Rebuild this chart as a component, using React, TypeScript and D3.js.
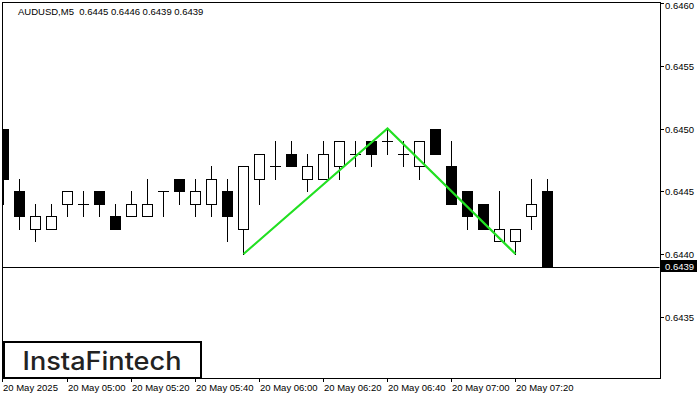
import React from "react";
import * as d3 from "d3";

const symbolTitle = "AUDUSD,M5  0.6445 0.6446 0.6439 0.6439";
const opens = [0.6450,0.6445,0.6442,0.6442,0.6444,0.6444,0.6445,0.6443,0.6443,0.6443,0.6445,0.6446,0.6444,0.6444,0.6445,0.6442,0.6446,0.6447,0.6448,0.6446,0.6446,0.6447,0.6448,0.6449,0.6449,0.6448,0.6447,0.6450,0.6447,0.6445,0.6444,0.6441,0.6441,0.6443,0.6445];
const highs = [0.6450,0.6446,0.6444,0.6444,0.6445,0.6445,0.6445,0.6444,0.6445,0.6446,0.6445,0.6446,0.6446,0.6447,0.6446,0.6447,0.6448,0.6449,0.6449,0.6448,0.6449,0.6449,0.6449,0.6449,0.6450,0.6449,0.6449,0.6450,0.6449,0.6445,0.6444,0.6445,0.6442,0.6446,0.6446];
const lows = [0.6444,0.6442,0.6441,0.6442,0.6443,0.6443,0.6443,0.6442,0.6443,0.6443,0.6443,0.6444,0.6443,0.6443,0.6441,0.6440,0.6444,0.6446,0.6447,0.6445,0.6446,0.6446,0.6447,0.6447,0.6448,0.6447,0.6446,0.6448,0.6444,0.6442,0.6442,0.6441,0.6440,0.6442,0.6439];
const closes = [0.6446,0.6443,0.6443,0.6443,0.6445,0.6444,0.6444,0.6442,0.6444,0.6444,0.6445,0.6445,0.6445,0.6446,0.6443,0.6447,0.6448,0.6447,0.6447,0.6447,0.6448,0.6449,0.6448,0.6448,0.6449,0.6448,0.6449,0.6448,0.6444,0.6443,0.6442,0.6442,0.6442,0.6444,0.6439];

const priceTicks = [0.6460, 0.6455, 0.6450, 0.6445, 0.6440, 0.6435];
const timeTickIdx = [0, 4, 8, 12, 16, 20, 24, 28, 32];
const timeTickLabels = ["20 May 2025", "20 May 05:00", "20 May 05:20", "20 May 05:40", "20 May 06:00", "20 May 06:20", "20 May 06:40", "20 May 07:00", "20 May 07:20"];

const patternIdx = [15, 24, 32];
const patternPrices = [0.6440, 0.6450, 0.6440];
const lastPrice = 0.6439;

const W = 700, H = 400;
const L = 2, R = 660, T = 2, B = 378;
const FONT = "'Liberation Sans', Arial, sans-serif";

export default function App() {
  const y = d3.scaleLinear().domain([0.6440, 0.6460]).range([254, 3]);
  const x = d3.scaleLinear().domain([0, 1]).range([3, 19]);
  const px = (v: number) => Math.round(v) + 0.5;

  const line = d3.line<number>()
    .x((d, i) => x(patternIdx[i]) + 0.5)
    .y((d) => y(d));

  const lastY = px(y(lastPrice));

  return (
    <svg width={W} height={H} style={{ position: "absolute", left: 0, top: 0, background: "#fff" }}>
      <defs>
        <clipPath id="plot">
          <rect x={L + 0.5} y={T + 0.5} width={R - L - 1} height={B - T - 1} />
        </clipPath>
      </defs>
      <rect x={0} y={0} width={W} height={H} fill="#fff" />
      <text x={18} y={14.5} fontFamily={FONT} fontSize={9.5} fill="#000" style={{ whiteSpace: "pre" }}>{symbolTitle}</text>

      <g clipPath="url(#plot)">
        {opens.map((o, i) => {
          const c = closes[i];
          const cx = Math.round(x(i));
          const wx = cx + 0.5;
          const yo = Math.round(y(o));
          const yc = Math.round(y(c));
          const yh = Math.round(y(highs[i]));
          const yl = Math.round(y(lows[i]));
          const top = Math.min(yo, yc);
          const bot = Math.max(yo, yc);
          const bull = c > o;
          const doji = yo === yc;
          return (
            <g key={i}>
              <line x1={wx} x2={wx} y1={yh} y2={yl + 1} stroke="#000" strokeWidth={1} />
              {doji ? (
                <line x1={cx - 5} x2={cx + 6} y1={top + 0.5} y2={top + 0.5} stroke="#000" strokeWidth={1} />
              ) : bull ? (
                <rect x={cx - 4.5} y={top + 0.5} width={10} height={bot - top} fill="#fff" stroke="#000" strokeWidth={1} />
              ) : (
                <rect x={cx - 5} y={top} width={11} height={bot - top + 1} fill="#000" />
              )}
            </g>
          );
        })}
        <line x1={L} x2={R} y1={lastY} y2={lastY} stroke="#000" strokeWidth={1} />
        <path d={line(patternPrices) || ""} fill="none" stroke="#22e022" strokeWidth={2.2} />
      </g>

      {/* frame */}
      <rect x={L + 0.5} y={T + 0.5} width={R - L} height={B - T} fill="none" stroke="#000" strokeWidth={1} />

      {/* price axis */}
      {priceTicks.map((p) => {
        const ty = px(y(p));
        return (
          <g key={p}>
            <line x1={R} x2={R + 4} y1={ty} y2={ty} stroke="#000" />
            <text x={665} y={Math.max(ty + 3.5, 8.5)} fontFamily={FONT} fontSize={9.5} fill="#000">{p.toFixed(4)}</text>
          </g>
        );
      })}
      <rect x={661} y={260} width={36} height={12} fill="#000" />
      <text x={665} y={269.5} fontFamily={FONT} fontSize={9.5} fill="#fff">{lastPrice.toFixed(4)}</text>

      {/* time axis */}
      {timeTickIdx.map((idx, k) => {
        const tx = k === 0 ? L : Math.round(x(idx));
        return (
          <g key={idx}>
            <line x1={tx + 0.5} x2={tx + 0.5} y1={B} y2={B + 4} stroke="#000" />
            <text x={tx + 1} y={391} fontFamily={FONT} fontSize={9.5} fill="#000">{timeTickLabels[k]}</text>
          </g>
        );
      })}

      {/* logo */}
      <rect x={4} y={342} width={197} height={36} fill="#fff" stroke="#000" strokeWidth={2} />
      <text x={22.5} y={370} fontFamily="Inter, 'Noto Sans', sans-serif" fontWeight={500} fontSize={25} fill="#222" textLength={159} lengthAdjust="spacingAndGlyphs">InstaFintech</text>
    </svg>
  );
}
